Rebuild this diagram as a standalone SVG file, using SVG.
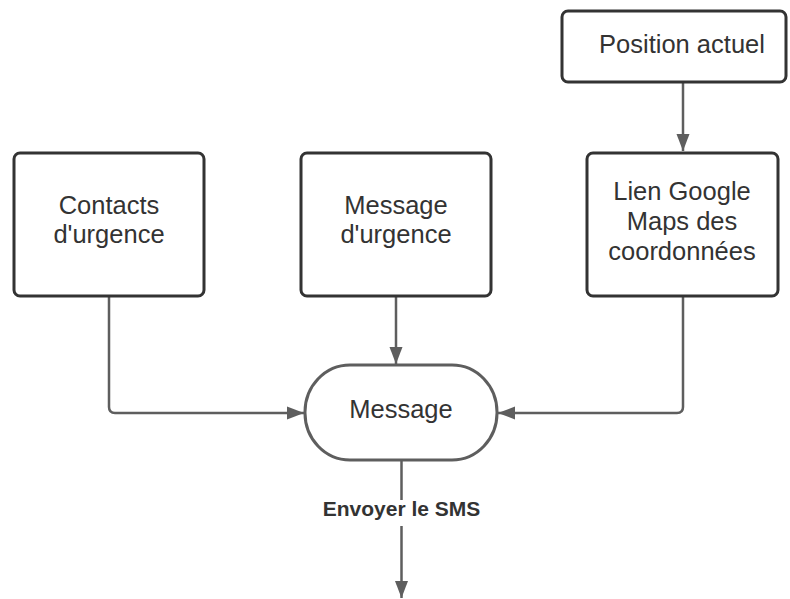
<svg xmlns="http://www.w3.org/2000/svg" width="790" height="599" viewBox="0 0 790 599">
<style>
.box{fill:#fff;stroke:#333;stroke-width:3}
.pill{fill:#fff;stroke:#5e5e5e;stroke-width:3}
.t{font-family:"Liberation Sans",Arial,sans-serif;font-size:25.5px;fill:#333;text-anchor:middle}
.lbl{font-family:"Liberation Sans",Arial,sans-serif;font-size:21px;font-weight:bold;fill:#333;text-anchor:middle}
.c{fill:none;stroke:#5e5e5e;stroke-width:2.5}
</style>
<defs>
<marker id="ah" markerUnits="userSpaceOnUse" markerWidth="18" markerHeight="14" refX="17" refY="7" orient="auto">
<path d="M0,0.5 L17,7 L0,13.5 z" fill="#5e5e5e"/>
</marker>
</defs>
<rect width="790" height="599" fill="#fff"/>
<g id="connectors">
<path class="c" d="M683,83 V151" marker-end="url(#ah)"/>
<path class="c" d="M109,296 V407 Q109,413 115,413 H304" marker-end="url(#ah)"/>
<path class="c" d="M396,296 V364" marker-end="url(#ah)"/>
<path class="c" d="M683,296 V407 Q683,413 677,413 H498" marker-end="url(#ah)"/>
<path class="c" d="M401.5,460 V598" marker-end="url(#ah)"/>
<rect x="318" y="500" width="168" height="26" fill="#fff"/>
<text class="lbl" x="401.5" y="516">Envoyer le SMS</text>
</g>
<g id="position">
<rect class="box" x="562" y="11" width="224" height="71" rx="6"/>
<text class="t" x="682" y="53">Position actuel</text>
</g>
<g id="contacts">
<rect class="box" x="14" y="153" width="190" height="143" rx="6"/>
<text class="t" x="109" y="214">Contacts</text>
<text class="t" x="109" y="243">d'urgence</text>
</g>
<g id="message-urgence">
<rect class="box" x="301" y="153" width="190" height="143" rx="6"/>
<text class="t" x="396" y="214">Message</text>
<text class="t" x="396" y="243">d'urgence</text>
</g>
<g id="lien">
<rect class="box" x="587" y="153" width="191" height="143" rx="6"/>
<text class="t" x="682" y="200">Lien Google</text>
<text class="t" x="682" y="230">Maps des</text>
<text class="t" x="682" y="260">coordonnées</text>
</g>
<g id="message">
<rect class="pill" x="305" y="365" width="192" height="95" rx="45" ry="47"/>
<text class="t" x="401" y="418">Message</text>
</g>
</svg>
